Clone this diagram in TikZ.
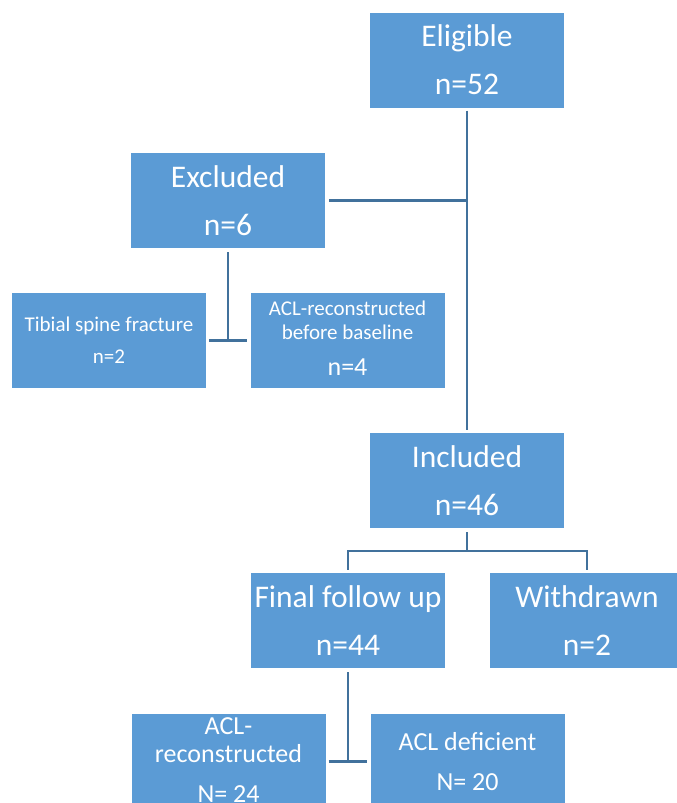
\documentclass[tikz,border=0pt]{standalone}
\usepackage{fontspec}
\setmainfont{Carlito}
\usetikzlibrary{calc}
\definecolor{boxfill}{HTML}{5B9BD5}
\definecolor{linecol}{HTML}{41719C}
\newcommand{\vcent}[1]{\vbox to 0pt{\vss\hbox{\begin{tabular}{@{}c@{}}#1\end{tabular}}\vss}}
\tikzset{
  box/.style={fill=boxfill, text=white, minimum width=194pt, minimum height=95pt, inner sep=0pt, align=center},
  big/.style={font=\fontsize{31.5}{48}\selectfont},
  small/.style={font=\fontsize{21}{32}\selectfont},
  mid/.style={font=\fontsize{26}{40}\selectfont},
  conn/.style={draw=linecol, line width=2.3pt}
}
\begin{document}
\begin{tikzpicture}[x=1pt,y=-1pt]
\useasboundingbox (0,0) rectangle (677,803);
\clip (0,0) rectangle (677,803);
\node[box,big] (elig) at (467,60) {Eligible\\n=52};
\node[box,big] (excl) at (228,200.5) {Excluded\\n=6};
\node[box,small] (tib) at (109,340.5) {Tibial spine fracture\\n=2};
\node[box,font=\fontsize{21}{24}\selectfont] (aclb) at (347.5,340.5) {\lower1pt\vcent{ACL-reconstructed\\before baseline\\[12pt]{\fontsize{26}{24}\selectfont n=4}}};
\node[box,big] (incl) at (467,480.5) {Included\\n=46};
\node[box,big] (final) at (348,620.5) {Final follow up\\n=44};
\node[box,big] (withd) at (587,620.5) {Withdrawn\\n=2};
\node[box,font=\fontsize{26}{28}\selectfont] (aclr) at (228.5,761.5) {\lower2pt\vcent{ACL-\\reconstructed\\[12pt]N= 24}};
\node[box,mid] (acld) at (467.5,761.5) {ACL deficient\\N= 20};

% Eligible -> Included trunk
\draw[conn, shorten <=3pt, shorten >=3pt] (elig.south) -- (incl.north);
% Excluded branch
\draw[conn, shorten <=4pt] (excl.east) -- (excl.east -| elig.south);
% Excluded -> sub boxes
\coordinate (exj) at (excl.south |- tib.east);
\draw[conn, shorten <=4pt] (excl.south) -- (exj);
\draw[conn, shorten <=3pt, shorten >=3pt] (tib.east) -- (aclb.west);
% Included -> Final / Withdrawn
\coordinate (inj) at ($(incl.south)+(0,23)$);
\draw[conn, shorten <=4pt] (incl.south) -- (inj);
\draw[conn, shorten <=3pt, shorten >=3pt] (final.north) -- (final.north |- inj) -- (withd.north |- inj) -- (withd.north);
% Final -> bottom boxes
\coordinate (fj) at (final.south |- aclr.east);
\draw[conn, shorten <=4pt] (final.south) -- (fj);
\draw[conn, shorten <=3pt, shorten >=3pt] (aclr.east) -- (acld.west);
\end{tikzpicture}
\end{document}
